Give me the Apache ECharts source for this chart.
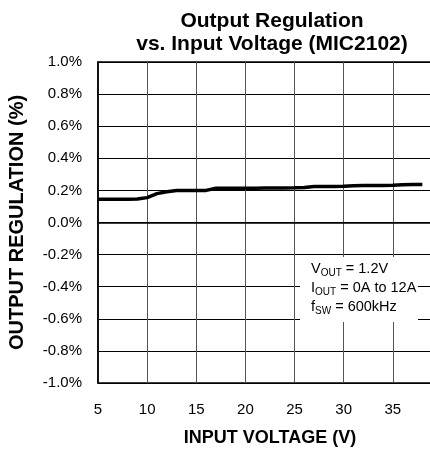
<!DOCTYPE html>
<html>
<head>
<meta charset="utf-8">
<script src="https://cdn.jsdelivr.net/npm/echarts@6/dist/echarts.min.js"></script>
<style>html,body{margin:0;padding:0;background:#fff}#c{width:430px;height:453px}</style>
</head>
<body>
<div id="c"></div>
<script>
var inputVoltage = [5,6,7,8,9,10,11,12,13,14,15,16,17,18,19,20,21,22,23,24,25,26,27,28,29,30,31,32,33,34,35,36,37,38];
var regulation = [0.145,0.145,0.145,0.145,0.146,0.155,0.180,0.192,0.200,0.200,0.200,0.200,0.213,0.214,0.214,0.214,0.214,0.215,0.215,0.215,0.216,0.218,0.224,0.225,0.225,0.226,0.229,0.230,0.230,0.231,0.232,0.235,0.236,0.236];
var xTicks = [5,10,15,20,25,30,35];
var titleLines = ['Output Regulation', 'vs. Input Voltage (MIC2102)'];
var noteLines = [['V','OUT',' = 1.2V'],['I','OUT',' = 0A to 12A'],['f','SW',' = 600kHz']];

var FONT = '"Liberation Sans", Arial, sans-serif';
var chart = echarts.init(document.getElementById('c'));
var pts = inputVoltage.map(function(v,i){return [v, regulation[i]];});
var noteText = noteLines.map(function(l){return '{n|'+l[0]+'}{s|'+l[1]+'}{n|'+l[2]+'}';}).join('\n');

chart.setOption({
  animation: false,
  backgroundColor: '#fff',
  title: {
    text: titleLines.join('\n'),
    left: 267, textAlign: 'center', top: 5,
    textStyle: {fontFamily: FONT, fontWeight: 'bold', fontSize: 21, lineHeight: 23, color: '#000'}
  },
  grid: {left: 98, width: 344, top: 62, height: 321, show: true, borderColor: '#000', borderWidth: 1.5,
    containLabel: false, outerBoundsMode: 'none'},
  xAxis: {
    type: 'value', min: 5, max: 40, interval: 5,
    name: 'INPUT VOLTAGE (V)', nameLocation: 'middle', nameGap: 46,
    nameTextStyle: {fontFamily: FONT, fontWeight: 'bold', fontSize: 18, color: '#000'},
    axisLine: {show: true, lineStyle: {color: '#000', width: 1.5}},
    axisTick: {show: false},
    axisLabel: {fontFamily: FONT, fontSize: 15, color: '#000', margin: 19,
      formatter: function(v){ return xTicks.indexOf(v) >= 0 ? String(v) : ''; }},
    splitLine: {show: true, lineStyle: {color: '#555', width: 1}}
  },
  yAxis: {
    type: 'value', min: -1, max: 1, interval: 0.2,
    name: 'OUTPUT REGULATION (%)', nameLocation: 'middle', nameGap: 71, nameRotate: 90, nameMoveOverlap: false,
    nameTextStyle: {fontFamily: FONT, fontWeight: 'bold', fontSize: 20, color: '#000'},
    axisLine: {show: true, lineStyle: {color: '#000', width: 1.5}},
    axisTick: {show: false},
    axisLabel: {fontFamily: FONT, fontSize: 15, color: '#000', margin: 16,
      formatter: function(v){ if (Math.abs(v) < 1e-9) v = 0; return v.toFixed(1) + '%'; }},
    splitLine: {show: true, lineStyle: {color: '#000', width: 1}}
  },
  series: [{
    type: 'line', data: pts, symbol: 'none', smooth: false, z: 5,
    lineStyle: {color: '#000', width: 3.5}
  }],
  graphic: [
    {type: 'rect', left: 300, top: 257, z: 100, shape: {width: 118, height: 65}, style: {fill: '#fff'}},
    {type: 'text', left: 311, top: 260, z: 101, style: {
      text: noteText, fill: '#000',
      rich: {
        n: {fontFamily: FONT, fontSize: 14.5, lineHeight: 19, color: '#000'},
        s: {fontFamily: FONT, fontSize: 10, lineHeight: 19, padding: [8,0,0,0], color: '#000'}
      }
    }}
  ]
});
</script>
</body>
</html>
